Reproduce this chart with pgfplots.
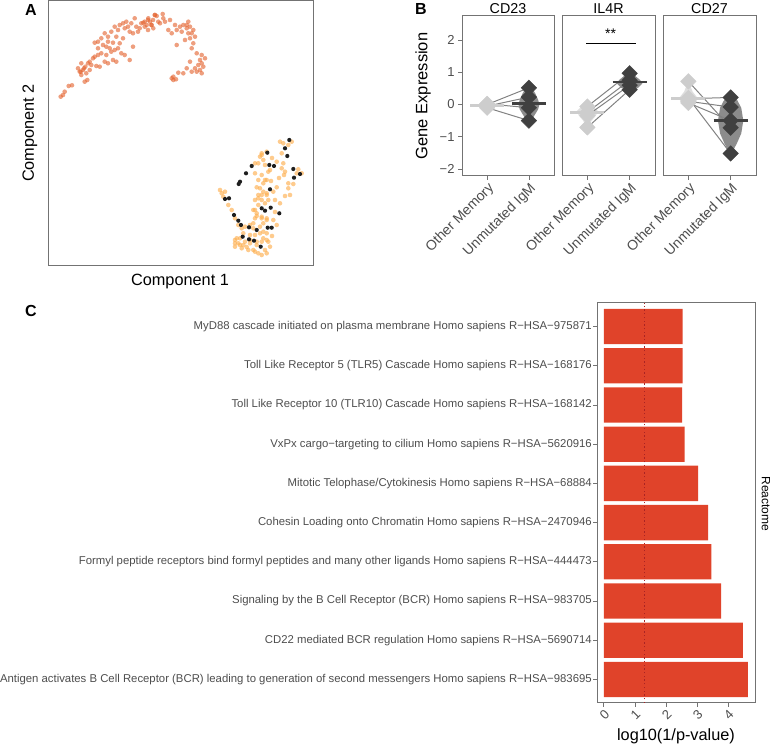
\documentclass[border=0pt]{standalone}
\usepackage{fontspec}
\setmainfont{Liberation Sans}
\usepackage{pgfplots}
\pgfplotsset{compat=1.18}

\definecolor{topor}{RGB}{228,100,48}
\definecolor{lightor}{RGB}{253,175,80}
\definecolor{dotblk}{RGB}{30,30,30}
\definecolor{barred}{RGB}{224,67,42}
\definecolor{dotred}{RGB}{170,35,35}
\definecolor{framegray}{RGB}{115,115,115}
\definecolor{ticktext}{RGB}{77,77,77}
\definecolor{lightdiam}{RGB}{205,205,205}
\definecolor{darkdiam}{RGB}{64,64,64}
\definecolor{violdark}{RGB}{140,140,140}
\definecolor{violight}{RGB}{222,222,222}
\definecolor{linegray}{RGB}{130,130,130}

\newcommand{\fs}[1]{\fontsize{#1bp}{#1bp}\selectfont}

\pgfplotsset{
  facet/.style={
    scale only axis, height=160bp,
    xmin=0.4, xmax=2.6, ymin=-2.22, ymax=2.75,
    xtick={1,2}, xticklabels={Other Memory,Unmutated IgM},
    xtick pos=bottom, ytick pos=left,
    x tick label style={rotate=45, anchor=north east, font=\fs{14}, text=ticktext, inner sep=1bp},
    y tick label style={font=\fs{13}, text=ticktext},
    tick align=outside, major tick length=4bp,
    tick style={framegray, line width=0.8bp},
    axis line style={framegray, line width=1bp},
    clip=false,
  },
  ldiam/.style={only marks, mark=square*, mark size=5.5bp, mark options={rotate=45, draw=lightdiam, fill=lightdiam}},
  ddiam/.style={only marks, mark=square*, mark size=5.5bp, mark options={rotate=45, draw=darkdiam, fill=darkdiam}},
  conn/.style={linegray, line width=1bp},
}

\begin{document}
\begin{tikzpicture}[x=1bp,y=1bp]
\useasboundingbox (0,0) rectangle (772,746);

% ---------------- Panel A ----------------
\begin{axis}[at={(48bp,480bp)}, anchor=south west, scale only axis,
  width=265bp, height=265bp, xmin=48, xmax=313, ymin=1, ymax=266, y dir=reverse,
  xtick=\empty, ytick=\empty, axis line style={framegray, line width=1bp}]
\addplot[only marks, mark=*, mark size=2.3bp, color=topor, mark options={draw opacity=0, fill=topor, fill opacity=0.62}] coordinates {
(60.7,96.7)(63,95)(64.7,91.7)(68.7,86)(72,85.3)(84.7,81.7)(87.3,80)(81.3,75)(79.7,71.7)(83,70)(85.3,66.7)(88,63.3)(89.7,61.7)(91.3,65)(93,58.3)(94.7,56.7)(96.3,66)(98,55)(101.3,53.3)(104.7,61.7)(108,63.3)(113,60)(116.3,61.7)(129.7,60)(106.3,55)(109.7,48.3)(111.3,51.7)(94.7,42.7)(98,41.7)(101.3,38.3)(103,45)(104.7,33.3)(108,36.7)(111.3,31.7)(114.7,26.7)(118,30)(119.7,25)(123,23.3)(126.3,21.7)(128,26.7)(129.7,31.7)(133,33.3)(134.7,18.3)(136.3,26.7)(138,31.7)(141.3,23.3)(144.7,21.7)(148,20)(151.3,25)(154.7,15)(119.7,43.3)(121.3,53.3)(124.7,55)(116.3,36.7)(123,38.3)(133,46.7)(98,48.3)(89.7,70)(86.3,73.3)(99.7,66.7)
(155,15)(162.7,14)(163.3,18.3)(158.3,21.7)(150,21.7)(146.7,25)(143.3,22.7)(153.3,28.3)(160,23.3)(165,21.7)(170,20)(168.3,30)(171.7,33.3)(175,25)(180,26.7)(183.3,25)(188.3,21.7)(186.7,28.3)(190,26.7)(193.3,30)(188.3,33.3)(185,40)(176.7,45)(190,38.3)(193.3,43.3)(191.7,48.3)(196.7,53.3)(201.7,55)(205,58.3)(200,60)(190,61.7)(198.3,65)(195,68.3)(200,70)(201.7,73.3)(191.7,71.7)(186.7,68.3)(183.3,73.3)(178.3,72.7)(173.3,76.7)(171.7,78.3)(176,79.3)
(81.3,63.3)(84,68.3)(80.7,71.7)(78,68.3)(106.3,46.7)(113,42.7)(114.7,50)(118,48.3)(108,41.7)(131.3,23.3)(139.7,28.3)(144.7,26.7)(148,30)(153,20)(124.7,28.3)(148.3,18.3)(151.7,25)(156.7,16)(176.7,30)(181.7,31.7)(186.7,25)(191.7,33.3)(195,36.7)(201.7,63.3)(203.3,66.7)(196.7,71.7)(173.3,80)
};
\addplot[only marks, mark=*, mark size=2.3bp, color=lightor, mark options={draw opacity=0, fill=lightor, fill opacity=0.65}] coordinates {
(220,190)(221.7,193.3)(223.3,196.7)(225,191.7)(228.3,205)(231.7,210)(235,218.3)(238.3,225)(241.7,228.3)(245,226.7)(253.3,228.3)(243.3,233.3)(240,238.3)(235,240)(238.3,243.3)(243.3,245)(235,246.7)(241.7,248.3)(248.3,250)(253.3,250)(250,240)(250,225)(253.3,210)(255,200)(255,218.3)(255,235)(255,163.3)(255,173.3)
(280,141.7)(283.3,143.3)(291.7,141.7)(288.3,145)(281.7,153.3)(283.3,163.3)(281.7,168.3)(285,171.7)(261.7,153.3)(260,156.7)(263.3,160)(258.3,163.3)(270,170)(276.7,161.7)(298.3,169.3)(301.7,173.3)(296.7,173.3)(261.7,175)(266.7,180)(263.3,183.3)(256.7,187.3)(276.7,187.3)(273.3,191.7)(266.7,193.3)(261.7,195)(258.3,198.3)(268.3,200)(275,200)(280,203.3)(288.3,188.3)(290,195)(288.3,183.3)(293.3,184)
(255,210)(256.7,216)(261.7,218.3)(266.7,218.3)(273.3,220)(276.7,225)(263.3,223.3)(253.3,223.3)(236.7,238.3)(235,243.3)(240,245)(245,241.7)(250,243.3)(256.7,241.7)(263.3,238.3)(268.3,241.7)(270,246.7)(265,250)(258.3,253.3)(255,251.7)(261.7,255)(266.7,253.3)(250,235)(260,233.3)(266.7,233.3)
(266.7,151.7)(261.7,155)(265,165)(268.3,171.7)(265,180)(260,188.3)(263.3,191.7)(266.7,195)(258.3,195)(261.7,200)(265,203.3)(258.3,205)(256.7,213.3)(261.7,216.7)(266.7,220)(260,226.7)(263.3,231.7)(261.7,241.7)(266.7,240)(256.7,245)(258.3,180)(246.7,247)(272,236)(275,212)(271,181)(279,178)(284,175)(285,196)(272,158)
};
\addplot[only marks, mark=*, mark size=2.1bp, color=dotblk, mark options={draw opacity=0, fill=dotblk}] coordinates {
(289.3,140)(285,148.3)(287.3,156)(267.3,152.7)(269.3,165)(274,166)(251.7,166)(246,173.3)(240,181.7)(238.7,184)(293.3,169)(300,174)(294,177.7)(270,189.3)(225,199)(229,198.3)(261.7,208.3)(265,210.7)(270.7,207.7)(279.3,213.3)(234,215)(238.3,220.7)(241,225)(249,227.3)(256.7,230)(267.7,227.7)(271.7,227.7)(242.7,236.7)(249,239.3)(254,240.7)(260.7,246.7)
};
\end{axis}

% ---------------- Panel B ----------------
\begin{axis}[facet, at={(462bp,570bp)}, anchor=south west, width=92bp,
  ytick={-2,-1,0,1,2}, yticklabels={−2,−1,0,1,2}]
\addplot[fill=violight, draw=none] coordinates {(1,0.1)(1.1,0)(1,-0.13)(0.9,0)} -- cycle;
\addplot[fill=violdark, draw=none] coordinates {(2,0.58)(2.08,0.5)(2.15,0.35)(2.22,0.15)(2.25,0)(2.22,-0.15)(2.15,-0.3)(2.08,-0.45)(2,-0.55)(1.92,-0.45)(1.85,-0.3)(1.78,-0.15)(1.75,0)(1.78,0.15)(1.85,0.35)(1.92,0.5)} -- cycle;
\addplot[conn] coordinates {(1,0.0)(2,0.52)};
\addplot[conn] coordinates {(1,-0.05)(2,0.23)};
\addplot[conn] coordinates {(1,0.02)(2,-0.1)};
\addplot[conn] coordinates {(1,-0.1)(2,-0.5)};
\addplot[ldiam] coordinates {(1,0.0)(1,-0.05)(1,0.02)(1,-0.1)};
\addplot[ddiam] coordinates {(2,0.52)(2,0.23)(2,-0.1)(2,-0.5)};
\addplot[lightdiam, line width=2.5bp] coordinates {(0.6,-0.03)(1.4,-0.03)};
\addplot[darkdiam, line width=2.5bp] coordinates {(1.6,0.03)(2.4,0.03)};
\end{axis}

\begin{axis}[facet, at={(562bp,570bp)}, anchor=south west, width=93bp, ytick=\empty]
\addplot[fill=violight, draw=none] coordinates {(1,0)(1.15,-0.08)(1.25,-0.2)(1.2,-0.35)(1.1,-0.5)(1.04,-0.65)(1,-0.72)(0.96,-0.65)(0.9,-0.5)(0.8,-0.35)(0.75,-0.2)(0.85,-0.08)} -- cycle;
\addplot[fill=violdark, draw=none] coordinates {(2,0.99)(2.12,0.9)(2.25,0.76)(2.3,0.65)(2.2,0.52)(2.08,0.45)(2,0.43)(1.92,0.45)(1.8,0.52)(1.7,0.65)(1.75,0.76)(1.88,0.9)} -- cycle;
\addplot[conn] coordinates {(1,-0.06)(2,0.97)};
\addplot[conn] coordinates {(1,-0.24)(2,0.75)};
\addplot[conn] coordinates {(1,-0.34)(2,0.6)};
\addplot[conn] coordinates {(1,-0.71)(2,0.46)};
\addplot[ldiam] coordinates {(1,-0.06)(1,-0.24)(1,-0.34)(1,-0.71)};
\addplot[ddiam] coordinates {(2,0.97)(2,0.75)(2,0.6)(2,0.46)};
\addplot[lightdiam, line width=2.5bp] coordinates {(0.6,-0.25)(1.4,-0.25)};
\addplot[darkdiam, line width=2.5bp] coordinates {(1.6,0.7)(2.4,0.7)};
\addplot[black, line width=1bp] coordinates {(0.97,1.9)(2.15,1.9)};
\node[font=\fs{14}] at (axis cs:1.55,2.2) {**};
\end{axis}

\begin{axis}[facet, at={(663bp,570bp)}, anchor=south west, width=93bp, ytick=\empty]
\addplot[fill=violight, draw=none] coordinates {(1,0.76)(1.04,0.6)(1.1,0.4)(1.22,0.2)(1.18,0.08)(1,0.02)(0.82,0.08)(0.78,0.2)(0.9,0.4)(0.96,0.6)} -- cycle;
\addplot[fill=violdark, draw=none] coordinates {(2,0.27)(2.15,0.15)(2.25,-0.1)(2.3,-0.5)(2.25,-0.9)(2.15,-1.2)(2.07,-1.4)(2,-1.52)(1.93,-1.4)(1.85,-1.2)(1.75,-0.9)(1.7,-0.5)(1.75,-0.1)(1.85,0.15)} -- cycle;
\addplot[conn] coordinates {(1,0.72)(2,-0.72)};
\addplot[conn] coordinates {(1,0.2)(2,-1.52)};
\addplot[conn] coordinates {(1,0.18)(2,0.22)};
\addplot[conn] coordinates {(1,0.1)(2,-0.08)};
\addplot[conn] coordinates {(1,0.05)(2,-0.5)};
\addplot[ldiam] coordinates {(1,0.72)(1,0.2)(1,0.18)(1,0.1)(1,0.05)};
\addplot[ddiam] coordinates {(2,0.22)(2,-0.08)(2,-0.5)(2,-0.72)(2,-1.52)};
\addplot[lightdiam, line width=2.5bp] coordinates {(0.6,0.18)(1.4,0.18)};
\addplot[darkdiam, line width=2.5bp] coordinates {(1.6,-0.5)(2.4,-0.5)};
\end{axis}

% ---------------- Panel C ----------------
\begin{axis}[at={(597bp,43bp)}, anchor=south west, scale only axis,
  width=158bp, height=400bp, xmin=-0.22, xmax=4.86, ymin=0.4, ymax=10.6,
  xtick={0,1,2,3,4}, xticklabels={0,1,2,3,4},
  ytick={1,2,3,4,5,6,7,8,9,10},
  yticklabels={
    Antigen activates B Cell Receptor (BCR) leading to generation of second messengers Homo sapiens R−HSA−983695,
    CD22 mediated BCR regulation Homo sapiens R−HSA−5690714,
    Signaling by the B Cell Receptor (BCR) Homo sapiens R−HSA−983705,
    Formyl peptide receptors bind formyl peptides and many other ligands Homo sapiens R−HSA−444473,
    Cohesin Loading onto Chromatin Homo sapiens R−HSA−2470946,
    Mitotic Telophase/Cytokinesis Homo sapiens R−HSA−68884,
    VxPx cargo−targeting to cilium Homo sapiens R−HSA−5620916,
    Toll Like Receptor 10 (TLR10) Cascade Homo sapiens R−HSA−168142,
    Toll Like Receptor 5 (TLR5) Cascade Homo sapiens R−HSA−168176,
    MyD88 cascade initiated on plasma membrane Homo sapiens R−HSA−975871},
  xtick pos=bottom, ytick pos=left,
  tick align=outside, major tick length=4bp,
  tick style={framegray, line width=0.8bp},
  axis line style={framegray, line width=1bp},
  x tick label style={rotate=45, anchor=north east, font=\fs{13}, text=ticktext, inner sep=1bp},
  y tick label style={font=\fs{11.35}, text=ticktext, inner sep=1bp},
]
\addplot[xbar, bar width=0.9, fill=barred, draw=none] coordinates {
(4.63,1)(4.47,2)(3.77,3)(3.46,4)(3.35,5)(3.03,6)(2.60,7)(2.52,8)(2.53,9)(2.53,10)};
\addplot[dotred, line width=1.3bp, dash pattern=on 1.3bp off 2.4bp] coordinates {(1.301,0.4)(1.301,10.6)};
\end{axis}

% ---------------- Labels ----------------
\node[font=\bfseries\fs{16}] at (31,736) {A};
\node[font=\bfseries\fs{16}] at (421,737) {B};
\node[font=\bfseries\fs{16}] at (31,435) {C};
\node[font=\fs{16.3}] at (180,464) {Component 1};
\node[font=\fs{16.3}, rotate=90] at (30,613) {Component 2};
\node[font=\fs{16.5}, rotate=90] at (423,650) {Gene Expression};
\node[font=\fs{14.3}] at (508,737) {CD23};
\node[font=\fs{14.3}] at (608.5,737) {IL4R};
\node[font=\fs{14.3}] at (709.5,737) {CD27};
\node[font=\fs{16.3}] at (676,10) {log10(1/p-value)};
\node[font=\fs{12}, rotate=-90] at (766,242) {Reactome};
\end{tikzpicture}
\end{document}
